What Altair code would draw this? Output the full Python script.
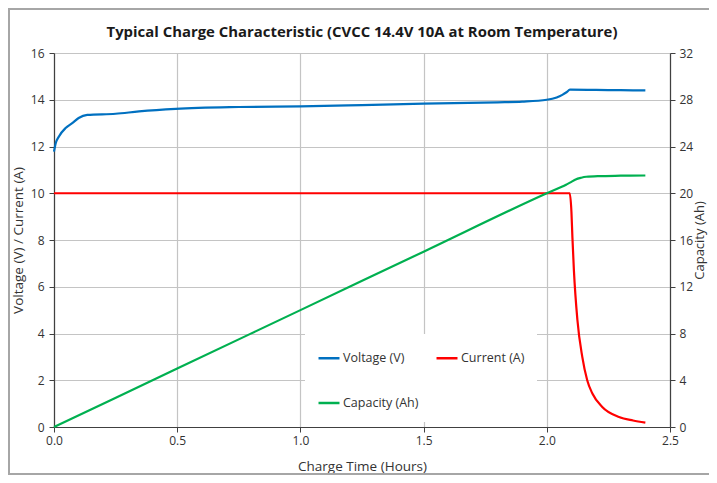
import altair as alt
import pandas as pd

# ---- data ----
volt_t = [0.0, 0.007, 0.02, 0.047, 0.074, 0.10, 0.135, 0.25, 0.345, 0.494, 0.75, 1.0, 1.25, 1.5, 1.8, 1.9, 2.0, 2.04, 2.063, 2.08, 2.094, 2.2, 2.3, 2.4]
volt_v = [11.78, 12.14, 12.43, 12.79, 13.0, 13.22, 13.35, 13.40, 13.50, 13.61, 13.69, 13.72, 13.77, 13.83, 13.89, 13.92, 14.0, 14.1, 14.21, 14.32, 14.43, 14.42, 14.41, 14.4]

curr_t = [0.0, 0.5, 1.0, 1.5, 2.0, 2.093, 2.100, 2.104, 2.11, 2.124, 2.144, 2.164, 2.185, 2.225, 2.293, 2.35, 2.4]
curr_v = [10.0, 10.0, 10.0, 10.0, 10.0, 10.0, 9.2, 8.1, 6.7, 4.6, 3.0, 2.0, 1.43, 0.86, 0.43, 0.28, 0.19]

cap_t = [0.0, 0.5, 1.0, 1.5, 2.0, 2.08, 2.1, 2.117, 2.14, 2.16, 2.21, 2.3, 2.4]
cap_v = [0.0, 5.0, 10.0, 15.0, 20.0, 20.75, 20.97, 21.18, 21.33, 21.41, 21.47, 21.5, 21.52]

series_names = ["Voltage (V)", "Current (A)", "Capacity (Ah)"]
series_colors = ["#0070C0", "#FF0000", "#00B050"]

x_ticks = [0.0, 0.5, 1.0, 1.5, 2.0, 2.5]
left_ticks = [0, 2, 4, 6, 8, 10, 12, 14, 16]
right_ticks = [0, 4, 8, 12, 16, 20, 24, 28, 32]

title_text = "Typical Charge Characteristic (CVCC 14.4V 10A at Room Temperature)"
x_title = "Charge Time (Hours)"
left_title = "Voltage (V) / Current (A)"
right_title = "Capacity (Ah)"

FONT = "Open Sans"
W, H = 616, 374

left_df = pd.concat([
    pd.DataFrame({"t": volt_t, "v": volt_v, "series": series_names[0]}),
    pd.DataFrame({"t": curr_t, "v": curr_v, "series": series_names[1]}),
], ignore_index=True)
cap_df = pd.DataFrame({"t": cap_t, "v": cap_v, "series": series_names[2]})

color = alt.Color(
    "series:N",
    scale=alt.Scale(domain=series_names, range=series_colors),
    legend=alt.Legend(
        title=None, orient="none", legendX=251, legendY=281, columns=2,
        direction="horizontal",
        symbolType="stroke", symbolSize=440, symbolStrokeWidth=2.5,
        labelFont=FONT, labelFontSize=12.5, labelColor="#333333",
        labelOffset=2, fillColor="white", padding=12,
        rowPadding=26, columnPadding=12,
    ),
)

x_enc = alt.X(
    "t:Q",
    scale=alt.Scale(domain=[0, 2.5], nice=False, zero=False),
    axis=alt.Axis(values=x_ticks, format=".1f", title=x_title, grid=True,
                  labelFlush=False, labelPadding=3, titlePadding=13),
)

frame = alt.Chart(pd.DataFrame({"k": [0]})).mark_rect(
    fillOpacity=0, stroke="#a6a6a6", strokeWidth=2
).encode(
    x=alt.value(-45), x2=alt.value(W + 60),
    y=alt.value(-44), y2=alt.value(H + 47),
)

left = alt.Chart(left_df).mark_line(strokeWidth=2.2, interpolate="monotone").encode(
    x=x_enc,
    y=alt.Y("v:Q", scale=alt.Scale(domain=[0, 16], nice=False),
            axis=alt.Axis(values=left_ticks, title=left_title, orient="left",
                          grid=True, labelPadding=5, titlePadding=5)),
    color=color,
    order="t:Q",
)

right = alt.Chart(cap_df).mark_line(strokeWidth=2.2, interpolate="monotone").encode(
    x=x_enc,
    y=alt.Y("v:Q", scale=alt.Scale(domain=[0, 32], nice=False),
            axis=alt.Axis(values=right_ticks, title=right_title, orient="right",
                          grid=False, labelPadding=4, titlePadding=14,
                          titleFontSize=13, titleAngle=270)),
    color=color,
    order="t:Q",
)

chart = alt.layer(frame, left, right).resolve_scale(y="independent").properties(
    width=W, height=H,
    title=alt.TitleParams(title_text, font=FONT, fontSize=14.9, fontWeight="bold",
                          color="#1a1a1a", anchor="middle", frame="group",
                          offset=14, dy=46),
    autosize=alt.AutoSizeParams(type="none"),
    padding={"left": 46, "top": 45, "right": 39, "bottom": 48},
).configure_view(
    stroke=None
).configure_axis(
    labelFont=FONT, labelFontSize=12, labelColor="#333333",
    titleFont=FONT, titleFontSize=13.5, titleFontWeight="normal", titleColor="#333333",
    domainColor="#404040", domainWidth=1.2, tickColor="#404040", tickSize=5,
    gridColor="#c4c4c4", gridWidth=1.2,
)

chart.save("out.html", embed_options={"renderer": "svg", "actions": False})
